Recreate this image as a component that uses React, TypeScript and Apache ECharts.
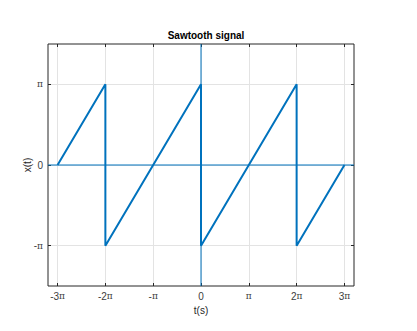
import React, { useEffect, useRef } from "react";
import * as echarts from "echarts";

// time and value in multiples of π
const tPoints = [-3, -2, -2, 0, 0, 2, 2, 3];
const xPoints = [0, 1, -1, 1, -1, 1, -1, 0];
const xTicks = [-3, -2, -1, 0, 1, 2, 3];
const yTicks = [-1, 0, 1];
const tRange = [-3.2, 3.2];
const xRange = [-1.5, 1.5];

const BLUE = "#0072BD";
const FONT = "Liberation Sans, Arial, sans-serif";

function piLabel(v: number): string {
  if (v === 0) return "0";
  if (v === 1) return "{p|π}";
  if (v === -1) return "-{p|π}";
  return `${v}{p|π}`;
}

export default function App() {
  const ref = useRef<HTMLDivElement>(null);
  useEffect(() => {
    if (!ref.current) return;
    const chart = echarts.init(ref.current, null, { renderer: "svg" });
    const labelStyle = {
      color: "#404040",
      fontSize: 10,
      fontFamily: FONT,
      rich: { p: { fontSize: 9, fontFamily: "DejaVu Serif, serif", color: "#404040" } },
    };
    const tick = (vals: number[]) => ({
      show: true,
      inside: true,
      length: 3,
      customValues: vals,
      lineStyle: { color: "#262626" },
    });
    chart.setOption({
      animation: false,
      backgroundColor: "#fff",
      title: {
        text: "Sawtooth signal",
        left: 201,
        top: 30,
        textAlign: "center",
        textVerticalAlign: "middle",
        textStyle: { fontSize: 10, fontWeight: "bold", color: "#000", fontFamily: FONT },
      },
      grid: {
        left: 48,
        top: 44,
        width: 306,
        height: 242,
        show: true,
        borderColor: "#262626",
        borderWidth: 1,
        backgroundColor: "#fff",
      },
      xAxis: [
        {
          type: "value",
          min: tRange[0],
          max: tRange[1],
          name: "t(s)",
          nameLocation: "middle",
          nameGap: 19,
          nameMoveOverlap: false,
          nameTextStyle: { fontSize: 10, color: "#262626", fontFamily: FONT },
          axisLine: { show: false, onZero: false },
          axisTick: tick(xTicks),
          axisLabel: { ...labelStyle, margin: 5, customValues: xTicks, formatter: (v: number) => piLabel(v) },
          splitLine: { show: true, lineStyle: { color: "#e3e3e3", width: 1 } },
        },
        {
          type: "value",
          position: "top",
          min: tRange[0],
          max: tRange[1],
          axisLine: { show: false, onZero: false },
          axisTick: tick(xTicks),
          axisLabel: { show: false },
          splitLine: { show: false },
        },
      ],
      yAxis: [
        {
          type: "value",
          min: xRange[0],
          max: xRange[1],
          name: "x(t)",
          nameLocation: "middle",
          nameGap: 16,
          nameRotate: 90,
          nameMoveOverlap: false,
          nameTextStyle: { fontSize: 10, color: "#262626", fontFamily: FONT },
          axisLine: { show: false, onZero: false },
          axisTick: tick(yTicks),
          axisLabel: { ...labelStyle, margin: 5, customValues: yTicks, formatter: (v: number) => piLabel(v) },
          splitLine: { show: true, lineStyle: { color: "#e3e3e3", width: 1 } },
        },
        {
          type: "value",
          position: "right",
          min: xRange[0],
          max: xRange[1],
          axisLine: { show: false, onZero: false },
          axisTick: tick(yTicks),
          axisLabel: { show: false },
          splitLine: { show: false },
        },
      ],
      series: [
        {
          type: "line",
          data: tRange.map((t) => [t, 0]),
          showSymbol: false,
          lineStyle: { color: BLUE, width: 1 },
          z: 2,
        },
        {
          type: "line",
          data: xRange.map((x) => [0, x]),
          showSymbol: false,
          lineStyle: { color: BLUE, width: 1 },
          z: 2,
        },
        {
          type: "line",
          data: tPoints.map((t, i) => [t, xPoints[i]]),
          showSymbol: false,
          lineStyle: { color: BLUE, width: 2 },
          z: 3,
        },
      ],
    });
    return () => chart.dispose();
  }, []);
  return <div ref={ref} style={{ width: 417, height: 331, marginLeft: -8, marginTop: -8 }} />;
}
